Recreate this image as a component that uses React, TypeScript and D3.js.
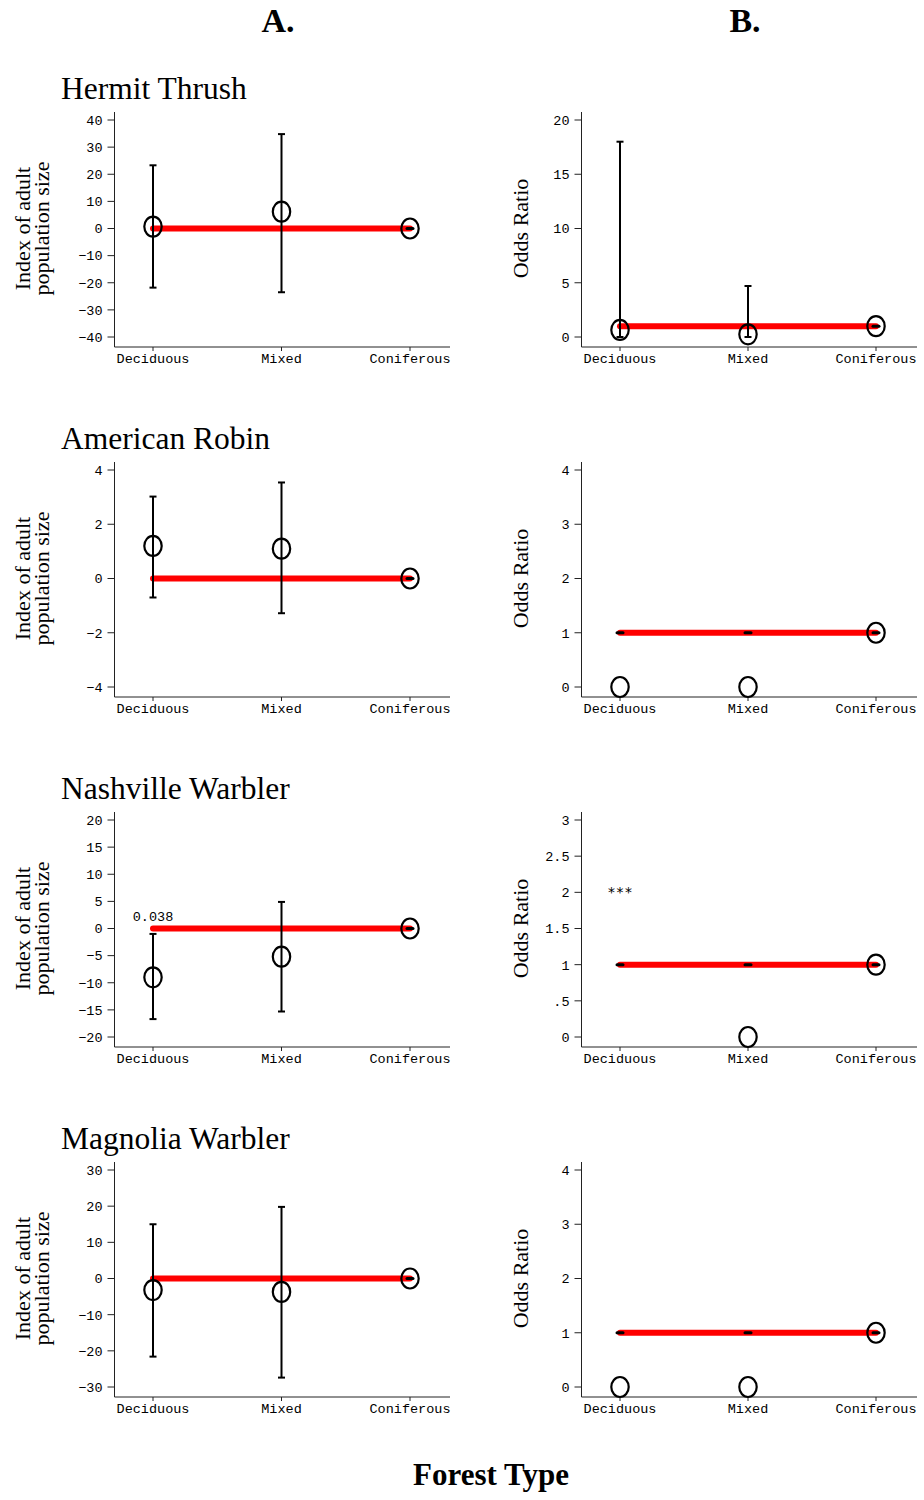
import React from "react";
import * as d3 from "d3";

const categories = ["Deciduous", "Mixed", "Coniferous"];
const species = ["Hermit Thrush", "American Robin", "Nashville Warbler", "Magnolia Warbler"];

// A. index of adult population size
const indexTicks = [
  [-40, -30, -20, -10, 0, 10, 20, 30, 40],
  [-4, -2, 0, 2, 4],
  [-20, -15, -10, -5, 0, 5, 10, 15, 20],
  [-30, -20, -10, 0, 10, 20, 30],
];
const indexEst = [
  [0.7, 6.2, 0],
  [1.2, 1.1, 0],
  [-9, -5.2, 0],
  [-3.2, -3.7, 0],
];
const indexLo = [
  [-21.8, -23.5, null],
  [-0.7, -1.28, null],
  [-16.7, -15.3, null],
  [-21.6, -27.4, null],
];
const indexHi = [
  [23.3, 34.8, null],
  [3.02, 3.54, null],
  [-1, 4.9, null],
  [15, 19.8, null],
];
const indexNotes = ["", "", "0.038", ""];
const indexNoteValues = [0, 0, 1.3, 0];

// B. odds ratio
const oddsTicks = [
  [0, 5, 10, 15, 20],
  [0, 1, 2, 3, 4],
  [0, 0.5, 1, 1.5, 2, 2.5, 3],
  [0, 1, 2, 3, 4],
];
const oddsTickLabels = [
  ["0", "5", "10", "15", "20"],
  ["0", "1", "2", "3", "4"],
  ["0", ".5", "1", "1.5", "2", "2.5", "3"],
  ["0", "1", "2", "3", "4"],
];
const oddsEst = [
  [0.65, 0.25, 1],
  [0, 0, 1],
  [null, 0, 1],
  [0, 0, 1],
];
const oddsLo = [
  [0, 0, null],
  [null, null, null],
  [null, null, null],
  [null, null, null],
];
const oddsHi = [
  [18, 4.7, null],
  [null, null, null],
  [null, null, null],
  [null, null, null],
];
const oddsNotes = ["", "", "***", ""];
const oddsNoteValues = [0, 0, 2, 0];

const serif = "'Liberation Serif', 'Times New Roman', serif";
const mono = "'Liberation Mono', 'DejaVu Sans Mono', monospace";

type PanelProps = {
  axisX: number;
  catRange: [number, number];
  axisRight: number;
  top: number;
  ticks: number[];
  tickLabels: string[];
  est: (number | null)[];
  lo: (number | null)[];
  hi: (number | null)[];
  refValue: number;
  note: string;
  noteValue: number;
  labelLines: string[];
  labelX: number[];
};

function Panel(p: PanelProps) {
  const plotH = 217;
  const y = d3
    .scaleLinear()
    .domain(d3.extent(p.ticks) as [number, number])
    .range([p.top + plotH, p.top]);
  const x = d3.scalePoint<string>().domain(categories).range(p.catRange);
  const xAxisY = p.top + plotH + 10;
  const midY = p.top + plotH / 2;
  const x0 = x(categories[0])!;
  const x2 = x(categories[2])!;

  return (
    <g>
      {/* y axis */}
      <line x1={p.axisX} x2={p.axisX} y1={p.top - 8} y2={xAxisY} stroke="#222" strokeWidth={1} />
      {p.ticks.map((t, i) => (
        <g key={t}>
          <line x1={p.axisX - 7} x2={p.axisX} y1={y(t)} y2={y(t)} stroke="#222" strokeWidth={1} />
          <text
            x={p.axisX - 12}
            y={y(t)}
            dy="0.36em"
            textAnchor="end"
            fontFamily={mono}
            fontSize={13.5}
          >
            {p.tickLabels[i]}
          </text>
        </g>
      ))}
      {/* x axis */}
      <line x1={p.axisX} x2={p.axisRight} y1={xAxisY} y2={xAxisY} stroke="#222" strokeWidth={1} />
      {categories.map((c) => (
        <g key={c}>
          <line x1={x(c)} x2={x(c)} y1={xAxisY} y2={xAxisY + 4} stroke="#222" strokeWidth={1} />
          <text x={x(c)} y={xAxisY + 16} textAnchor="middle" fontFamily={mono} fontSize={13.5}>
            {c}
          </text>
        </g>
      ))}
      {/* axis title */}
      {p.labelLines.map((l, i) => (
        <text
          key={l}
          transform={`translate(${p.labelX[i]},${midY}) rotate(-90)`}
          textAnchor="middle"
          fontFamily={serif}
          fontSize={22}
        >
          {l}
        </text>
      ))}
      {/* reference line */}
      <line
        x1={x0}
        x2={x2}
        y1={y(p.refValue)}
        y2={y(p.refValue)}
        stroke="#ff0000"
        strokeWidth={6}
        strokeLinecap="round"
      />
      {categories.map((c, i) => {
        const cx = x(c)!;
        const lo = p.lo[i];
        const hi = p.hi[i];
        const e = p.est[i];
        return (
          <g key={c}>
            {lo != null && hi != null ? (
              <g stroke="#000" strokeWidth={2}>
                <line x1={cx} x2={cx} y1={y(lo)} y2={y(hi)} />
                <line x1={cx - 3.5} x2={cx + 3.5} y1={y(lo)} y2={y(lo)} />
                <line x1={cx - 3.5} x2={cx + 3.5} y1={y(hi)} y2={y(hi)} />
              </g>
            ) : (
              <line
                x1={cx - 3}
                x2={cx + 3}
                y1={y(p.refValue)}
                y2={y(p.refValue)}
                stroke="#000"
                strokeWidth={3}
                strokeLinecap="round"
              />
            )}
            {e != null && (
              <ellipse cx={cx} cy={y(e)} rx={8.7} ry={10} fill="none" stroke="#000" strokeWidth={2.2} />
            )}
          </g>
        );
      })}
      {p.note && (
        <text
          x={x0}
          y={y(p.noteValue)}
          dy={p.note === "***" ? 5 : 0}
          textAnchor="middle"
          fontFamily={p.note === "***" ? "'DejaVu Sans Mono', monospace" : mono}
          fontSize={p.note === "***" ? 14 : 13.5}
        >
          {p.note}
        </text>
      )}
    </g>
  );
}

export default function App() {
  const rowGap = 350;
  return (
    <div style={{ position: "absolute", left: 0, top: 0 }}>
      <svg width={924} height={1500} style={{ display: "block", background: "#fff" }}>
        <text x={278} y={32} textAnchor="middle" fontFamily={serif} fontWeight="bold" fontSize={34}>
          A.
        </text>
        <text x={745} y={32} textAnchor="middle" fontFamily={serif} fontWeight="bold" fontSize={34}>
          B.
        </text>
        {species.map((s, i) => {
          const top = 120 + rowGap * i;
          return (
            <g key={s}>
              <text x={61} y={99 + rowGap * i} fontFamily={serif} fontSize={31.5}>
                {s}
              </text>
              <Panel
                axisX={114.5}
                catRange={[153, 410]}
                axisRight={450}
                top={top}
                ticks={indexTicks[i]}
                tickLabels={indexTicks[i].map((t) => (t < 0 ? `\u2212${-t}` : `${t}`))}
                est={indexEst[i]}
                lo={indexLo[i]}
                hi={indexHi[i]}
                refValue={0}
                note={indexNotes[i]}
                noteValue={indexNoteValues[i]}
                labelLines={["Index of adult", "population size"]}
                labelX={[30, 49]}
              />
              <Panel
                axisX={581.5}
                catRange={[620, 876]}
                axisRight={917}
                top={top}
                ticks={oddsTicks[i]}
                tickLabels={oddsTickLabels[i]}
                est={oddsEst[i]}
                lo={oddsLo[i]}
                hi={oddsHi[i]}
                refValue={1}
                note={oddsNotes[i]}
                noteValue={oddsNoteValues[i]}
                labelLines={["Odds Ratio"]}
                labelX={[528]}
              />
            </g>
          );
        })}
        <text x={491} y={1485} textAnchor="middle" fontFamily={serif} fontWeight="bold" fontSize={31}>
          Forest Type
        </text>
      </svg>
    </div>
  );
}
